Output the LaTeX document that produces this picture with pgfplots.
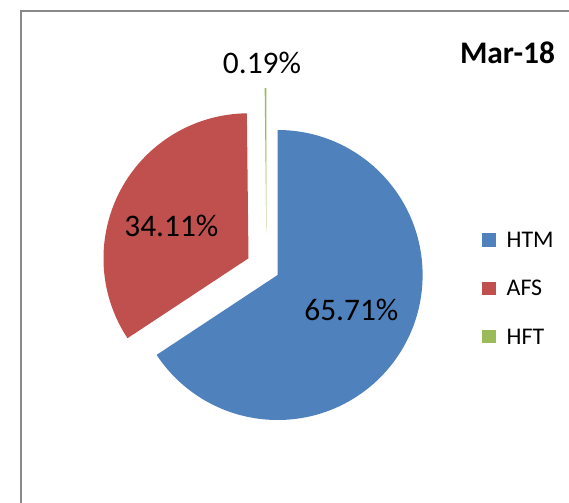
\documentclass[border=0pt]{standalone}
\usepackage{fontspec}
\setmainfont{Carlito}
\usepackage{pgfplots}
\pgfplotsset{compat=1.18}
\definecolor{htm}{HTML}{4F81BD}
\definecolor{afs}{HTML}{C0504D}
\definecolor{hft}{HTML}{9BBB59}
\definecolor{frame}{RGB}{137,137,137}
% data (percent)
\def\vHTM{65.71}
\def\vAFS{34.11}
\def\vHFT{0.19}
\pgfmathsetmacro\dH{-3.6*\vHTM}
\pgfmathsetmacro\dA{-3.6*\vAFS}
\pgfmathsetmacro\dF{-3.6*\vHFT}
\pgfmathsetmacro\sH{90}
\pgfmathsetmacro\sA{\sH+\dH}
\pgfmathsetmacro\sF{\sA+\dA}
\begin{document}
\begin{tikzpicture}
\begin{axis}[
  scale only axis, width=569bp, height=503bp,
  xmin=0, xmax=569, ymin=0, ymax=503,
  hide axis, clip=false,
]
% frame
\draw[frame, line width=1.5bp] (axis cs:21,0) -- (axis cs:21,492) -- (axis cs:569,492);
% slices
\fill[htm] (axis cs:277.6,228) -- ++(\sH:145bp) arc[start angle=\sH, delta angle=\dH, radius=145bp] -- cycle;
\fill[afs] (axis cs:248.5,244.7) -- ++(\sA:145bp) arc[start angle=\sA, delta angle=\dA, radius=145bp] -- cycle;
\fill[hft] (axis cs:266.3,270) -- ++(\sF:145bp) arc[start angle=\sF, delta angle=\dF, radius=145bp] -- cycle;
% labels
\node[inner sep=0pt, font=\fontsize{31.5}{36}\selectfont] at (axis cs:262,440.5) {0.19\%};
\node[inner sep=0pt, font=\fontsize{31.5}{36}\selectfont] at (axis cs:171.4,276.7) {34.11\%};
\node[inner sep=0pt, font=\fontsize{31.5}{36}\selectfont] at (axis cs:351.4,192.7) {65.71\%};
\node[inner sep=0pt, font=\fontsize{31.5}{36}\selectfont\bfseries] at (axis cs:507.5,450) {Mar-18};
% legend
\fill[htm] (axis cs:482,256.3) rectangle (axis cs:495.5,269.7);
\fill[afs] (axis cs:482,208) rectangle (axis cs:495.5,221.4);
\fill[hft] (axis cs:482,159.7) rectangle (axis cs:495.5,173.1);
\node[inner sep=0pt, anchor=west, font=\fontsize{24}{28}\selectfont] at (axis cs:506.5,263) {HTM};
\node[inner sep=0pt, anchor=west, font=\fontsize{24}{28}\selectfont] at (axis cs:506.5,214.7) {AFS};
\node[inner sep=0pt, anchor=west, font=\fontsize{24}{28}\selectfont] at (axis cs:506.5,166.4) {HFT};
\end{axis}
\pgfresetboundingbox
\path (current axis.south west) rectangle (current axis.north east);
\end{tikzpicture}
\end{document}
